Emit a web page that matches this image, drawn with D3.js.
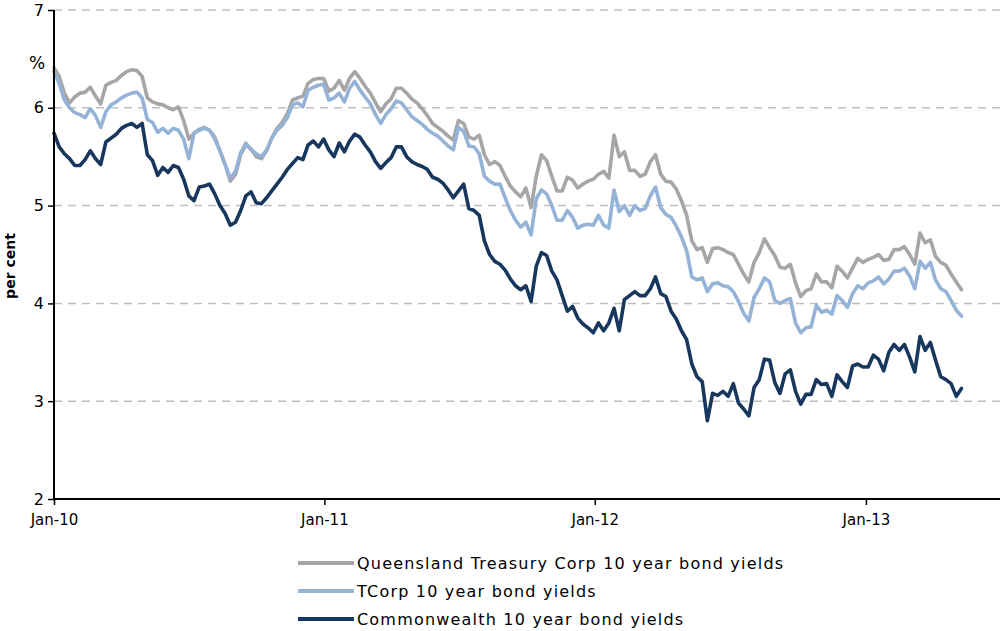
<!DOCTYPE html>
<html><head><meta charset="utf-8">
<script src="https://cdn.jsdelivr.net/npm/d3@7"></script>
<style>
body{margin:0;background:#fff}
svg{display:block}
text{font-family:"DejaVu Sans",sans-serif;fill:#000}
</style>
</head><body>
<svg id="chart" width="1001" height="631"></svg>
<script>
const startDate = "2010-01-01";
const qtc = [
6.41,6.32,6.15,6.05,6.11,6.15,6.16,6.21,6.12,6.04,
6.23,6.26,6.28,6.33,6.37,6.39,6.38,6.32,6.10,6.06,
6.04,6.03,6.00,5.98,6.01,5.87,5.68,5.74,5.78,5.80,
5.77,5.70,5.56,5.42,5.25,5.32,5.52,5.62,5.58,5.50,
5.48,5.56,5.69,5.79,5.85,5.94,6.08,6.10,6.12,6.25,
6.29,6.30,6.30,6.17,6.20,6.28,6.18,6.30,6.37,6.30,
6.22,6.15,6.05,5.96,6.04,6.09,6.20,6.20,6.15,6.09,
6.05,5.99,5.92,5.84,5.80,5.76,5.71,5.67,5.87,5.84,
5.70,5.68,5.72,5.52,5.42,5.45,5.41,5.30,5.20,5.14,
5.09,5.18,4.98,5.30,5.52,5.46,5.30,5.15,5.15,5.29,
5.26,5.18,5.22,5.25,5.27,5.32,5.35,5.28,5.72,5.50,
5.55,5.36,5.36,5.30,5.32,5.45,5.52,5.32,5.25,5.24,
5.17,5.05,4.90,4.64,4.55,4.57,4.42,4.56,4.57,4.55,
4.52,4.50,4.40,4.30,4.22,4.42,4.52,4.66,4.57,4.49,
4.37,4.36,4.40,4.21,4.07,4.13,4.15,4.30,4.22,4.22,
4.16,4.38,4.33,4.26,4.36,4.46,4.42,4.45,4.47,4.50,
4.44,4.45,4.55,4.55,4.58,4.50,4.40,4.72,4.62,4.65,
4.48,4.42,4.39,4.30,4.22,4.14];
const tcorp = [
6.37,6.25,6.08,6.00,5.95,5.93,5.90,5.99,5.92,5.80,
5.96,6.03,6.06,6.10,6.13,6.15,6.16,6.10,5.88,5.85,
5.75,5.79,5.74,5.79,5.77,5.68,5.48,5.74,5.77,5.79,
5.77,5.68,5.56,5.42,5.28,5.35,5.54,5.64,5.57,5.53,
5.50,5.57,5.69,5.77,5.82,5.90,6.03,6.05,6.01,6.18,
6.21,6.23,6.24,6.08,6.10,6.15,6.06,6.20,6.27,6.18,
6.11,6.04,5.93,5.84,5.93,5.99,6.07,6.05,5.98,5.91,
5.87,5.83,5.78,5.74,5.71,5.66,5.61,5.57,5.80,5.76,
5.61,5.60,5.53,5.30,5.25,5.22,5.22,5.08,4.95,4.85,
4.78,4.83,4.70,5.07,5.16,5.12,5.00,4.85,4.85,4.95,
4.88,4.77,4.80,4.81,4.80,4.90,4.80,4.77,5.16,4.94,
5.00,4.90,5.00,4.95,4.97,5.10,5.19,4.98,4.91,4.88,
4.79,4.68,4.54,4.27,4.24,4.26,4.12,4.20,4.21,4.18,
4.17,4.12,4.02,3.90,3.82,4.06,4.15,4.26,4.22,4.03,
4.00,4.03,4.05,3.80,3.70,3.75,3.76,3.98,3.91,3.93,
3.89,4.08,4.03,3.96,4.10,4.18,4.15,4.21,4.23,4.27,
4.20,4.25,4.33,4.33,4.36,4.28,4.15,4.43,4.36,4.42,
4.24,4.15,4.12,4.03,3.93,3.87];
const commonwealth = [
5.74,5.60,5.53,5.48,5.41,5.41,5.47,5.56,5.48,5.42,
5.65,5.69,5.73,5.79,5.82,5.84,5.80,5.84,5.52,5.46,
5.31,5.39,5.34,5.41,5.39,5.27,5.10,5.05,5.19,5.20,
5.22,5.12,5.00,4.92,4.80,4.83,4.95,5.10,5.14,5.03,
5.02,5.08,5.15,5.22,5.29,5.37,5.43,5.49,5.47,5.62,
5.66,5.60,5.68,5.57,5.50,5.64,5.55,5.66,5.73,5.70,
5.62,5.55,5.45,5.38,5.44,5.49,5.60,5.60,5.50,5.45,
5.42,5.40,5.37,5.29,5.27,5.23,5.16,5.08,5.15,5.22,
4.97,4.95,4.90,4.64,4.50,4.43,4.40,4.34,4.25,4.18,
4.14,4.18,4.02,4.38,4.52,4.49,4.33,4.24,4.08,3.92,
3.97,3.85,3.79,3.75,3.70,3.80,3.72,3.80,3.95,3.72,
4.04,4.08,4.12,4.08,4.08,4.15,4.27,4.10,4.07,3.92,
3.84,3.72,3.63,3.38,3.25,3.20,2.80,3.08,3.06,3.10,
3.05,3.18,2.98,2.92,2.85,3.14,3.22,3.43,3.42,3.19,
3.08,3.28,3.32,3.10,2.97,3.07,3.07,3.22,3.17,3.18,
3.05,3.27,3.20,3.14,3.36,3.38,3.35,3.35,3.47,3.43,
3.31,3.50,3.58,3.52,3.58,3.45,3.30,3.66,3.52,3.60,
3.42,3.25,3.22,3.18,3.05,3.13];

const seriesNames = [
  "Queensland Treasury Corp 10 year bond yields",
  "TCorp 10 year bond yields",
  "Commonwealth 10 year bond yields"
];
const seriesColors = ["#A6A6A6", "#95B3D7", "#17375E"];
const yTicks = [2, 3, 4, 5, 6, 7];
const xTickDates = ["2010-01-01", "2011-01-01", "2012-01-01", "2013-01-01"];
const xTickLabels = ["Jan-10", "Jan-11", "Jan-12", "Jan-13"];
const xDomain = ["2010-01-01", "2013-07-01"];
const yLabel = "per cent";
const unitLabel = "%";

// ---- build ----
const parse = d3.utcParse("%Y-%m-%d");
const start = parse(startDate);
const dates = qtc.map((_, i) => d3.utcDay.offset(start, 7 * i));
const series = [qtc, tcorp, commonwealth];

const svg = d3.select("#chart");
const pL = 54, pR = 1000, pT = 10, pB = 499;

const x = d3.scaleUtc().domain(xDomain.map(parse)).range([pL, pR]);
const y = d3.scaleLinear().domain([2, 7]).range([pB, pT]);

// gridlines
svg.append("g").selectAll("line")
  .data(yTicks.filter(t => t > 2))
  .join("line")
  .attr("x1", pL).attr("x2", pR)
  .attr("y1", d => y(d)).attr("y2", d => y(d))
  .attr("stroke", "#BFBFBF").attr("stroke-width", 1.5)
  .attr("stroke-dasharray", "8,6");

// lines
const line = d3.line().x((d, i) => x(dates[i])).y(d => y(d));
svg.append("g").selectAll("path")
  .data(series)
  .join("path")
  .attr("d", d => line(d))
  .attr("fill", "none")
  .attr("stroke", (d, i) => seriesColors[i])
  .attr("stroke-width", 3.6)
  .attr("stroke-linejoin", "round")
  .attr("stroke-linecap", "round");

// y axis
const yAxis = svg.append("g")
  .attr("transform", `translate(${pL},0)`)
  .call(d3.axisLeft(y).tickValues(yTicks).tickSize(6).tickPadding(4).tickFormat(d3.format("d")));
yAxis.select(".domain").attr("stroke", "#000").attr("stroke-width", 2).attr("d", `M0,${pB}V${pT}`);
yAxis.selectAll(".tick line").attr("stroke", "#000").attr("stroke-width", 1.5);
yAxis.selectAll(".tick text").attr("font-size", 16).attr("font-family", '"DejaVu Sans",sans-serif');

// x axis
const xAxis = svg.append("g")
  .attr("transform", `translate(0,${pB})`)
  .call(d3.axisBottom(x).tickValues(xTickDates.map(parse)).tickSize(6).tickPadding(9)
    .tickFormat((d, i) => xTickLabels[i]));
xAxis.select(".domain").attr("stroke", "#000").attr("stroke-width", 2).attr("d", `M${pL},0H${pR}`);
xAxis.selectAll(".tick line").attr("stroke", "#000").attr("stroke-width", 1.5);
xAxis.selectAll(".tick text").attr("font-size", 15).attr("font-family", '"DejaVu Sans",sans-serif');

// labels
svg.append("text")
  .attr("transform", `translate(15,266) rotate(-90)`)
  .attr("text-anchor", "middle")
  .attr("font-size", 14).attr("font-weight", "bold")
  .text(yLabel);
svg.append("text")
  .attr("x", 37).attr("y", 69)
  .attr("text-anchor", "middle")
  .attr("font-size", 17)
  .text(unitLabel);

// legend
const legend = svg.append("g");
const rows = legend.selectAll("g").data(seriesNames).join("g")
  .attr("transform", (d, i) => `translate(298,${563 + i * 28})`);
rows.append("line")
  .attr("x1", 0).attr("x2", 56).attr("y1", 0).attr("y2", 0)
  .attr("stroke", (d, i) => seriesColors[i]).attr("stroke-width", 4);
rows.append("text")
  .attr("x", 59).attr("y", 6)
  .attr("font-size", 16).attr("letter-spacing", 1.2)
  .text(d => d);
</script>
</body></html>
